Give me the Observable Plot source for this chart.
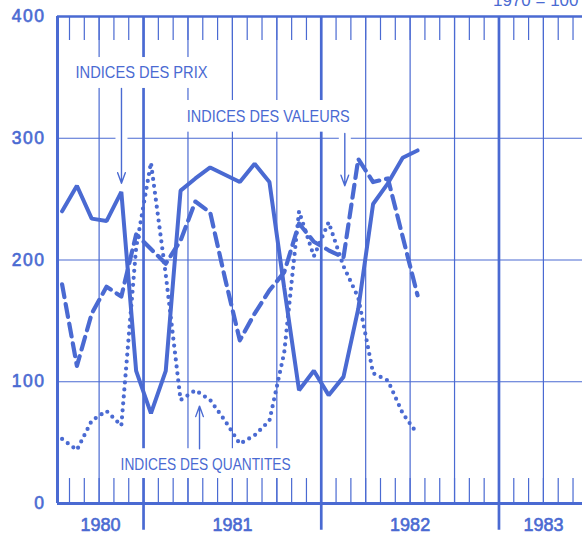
<!DOCTYPE html>
<html><head><meta charset="utf-8">
<script src="https://cdn.jsdelivr.net/npm/d3@7"></script>
<script src="https://cdn.jsdelivr.net/npm/@observablehq/plot@0.6"></script>
<style>
html,body{margin:0;padding:0;background:#fff;overflow:hidden;}
</style></head><body><div id="chart"></div>
<script>
const ink = "#4a6ad2";

// Monthly observations (mid-month), July 1980 – July 1982
const months = ["1980-07","1980-08","1980-09","1980-10","1980-11","1980-12",
  "1981-01","1981-02","1981-03","1981-04","1981-05","1981-06",
  "1981-07","1981-08","1981-09","1981-10","1981-11","1981-12",
  "1982-01","1982-02","1982-03","1982-04","1982-05","1982-06","1982-07"];
const prix      = [240, 261, 234, 232, 256, 109,  74, 109, 257, 267, 276, 270, 264, 279, 264, 177,  93, 109,  89, 104, 160, 246, 263, 284, 290];
const valeurs   = [180, 113, 156, 178, 170, 221, 209, 197, 216, 248, 239, 185, 134, 156, 175, 190, 230, 215, 208, 202, 283, 264, 267, 219, 171];
const quantites = [ 53,  44,  68,  76,  64, 210, 280, 188,  85,  93,  85,  68,  49,  56,  68, 124, 240, 203, 231, 195, 169, 107, 101,  74,  57];

// Axis content (x in months since January 1980)
const yTicks = [0, 100, 200, 300, 400];
const yearLabels = ["1980", "1981", "1982", "1983"];
const yearLabelPos = [9.1, 18, 30, 39];
const yearBounds = [12, 24, 36];
const quarterLines = [9, 15, 18, 21, 27, 30, 33, 39];
const monthTicks = [7,8,9,10,11,12,13,14,15,16,17,18,19,20,21,22,23,24,25,26,27,28,29,30,31,32,33,34,35,36,37,38,39,40,41];
const xDomain = [6.19, 41.64];

// Annotations
const labelTexts = ["INDICES DES PRIX", "INDICES DES VALEURS", "INDICES DES QUANTITES"];
const labelT = [11.865, 20.42, 16.19];
const labelV = [353.6, 317.3, 31.5];
const labelWidths = [132, 163, 170];
const boxes = [
  {t1: 6.6, t2: 16.66, v1: 340.9, v2: 366.3},
  {t1: 14.36, t2: 26.51, v1: 305, v2: 331},
  {t1: 9.64, t2: 22.6, v1: 20.5, v2: 45}
];
const arrows = [
  {t: 10.51, v1: 341, v2: 263},
  {t: 25.59, v1: 304, v2: 261},
  {t: 15.78, v1: 45, v2: 80}
];
const unitNote = "1970 = 100";

const toT = s => { const [y, m] = s.split("-").map(Number); return (y - 1980) * 12 + (m - 1) + 0.5; };
const rows = months.map((m, i) => ({t: toT(m), prix: prix[i], valeurs: valeurs[i], quantites: quantites[i]}));
const labels = labelTexts.map((text, i) => ({text, t: labelT[i], v: labelV[i]}));

const font = "'Liberation Sans', Arial, sans-serif";

const chart = Plot.plot({
  width: 582, height: 539,
  marginLeft: 57, marginRight: 0, marginTop: 16, marginBottom: 36,
  x: {type: "linear", domain: xDomain, axis: null},
  y: {domain: [0, 400], axis: null},
  style: {fontFamily: font, background: "white", color: ink, overflow: "visible"},
  marks: [
    Plot.ruleY([100, 200, 300], {stroke: ink, strokeWidth: 1.2}),
    Plot.ruleX(quarterLines, {y1: 0, y2: 400, stroke: ink, strokeWidth: 1.2}),
    Plot.ruleX(yearBounds, {y1: -22, y2: 400, stroke: ink, strokeWidth: 2.7}),
    Plot.rect(boxes, {x1: "t1", x2: "t2", y1: "v1", y2: "v2", fill: "white"}),
    Plot.ruleX(monthTicks, {y1: 380.3, y2: 400, stroke: ink, strokeWidth: 1.2}),
    Plot.ruleX(monthTicks, {y1: 0, y2: 20.5, stroke: ink, strokeWidth: 1.2}),
    Plot.ruleY([0], {stroke: ink, strokeWidth: 3}),
    Plot.ruleY([400], {stroke: ink, strokeWidth: 2.5}),
    Plot.ruleX([xDomain[0]], {y1: 0, y2: 400, stroke: ink, strokeWidth: 3}),
    Plot.ruleX(arrows, {x: "t", y1: "v1", y2: "v2", stroke: "white", strokeWidth: 12}),
    Plot.arrow(arrows, {x: "t", y1: "v1", y2: "v2", stroke: ink, strokeWidth: 1.4, headLength: 12, headAngle: 40}),
    Plot.text(labels, {x: "t", y: "v", text: "text", fill: ink, fontSize: 16.5, textAnchor: "middle"}),
    Plot.text(yTicks, {x: xDomain[0], y: d => d, text: d => String(d), fill: ink, stroke: ink, strokeWidth: 0.6, fontSize: 17.5, textAnchor: "end", dx: -12}),
    Plot.text(yearLabels, {x: (d, i) => yearLabelPos[i], y: -18, text: d => d, fill: ink, stroke: ink, strokeWidth: 0.6, fontSize: 18}),
    Plot.text([unitNote], {frameAnchor: "top-right", dx: -4, dy: -11, lineAnchor: "bottom", textAnchor: "end", fill: ink, fontSize: 17}),
    Plot.line(rows, {x: "t", y: "prix", stroke: ink, strokeWidth: 4, strokeLinejoin: "miter"}),
    Plot.line(rows, {x: "t", y: "valeurs", stroke: ink, strokeWidth: 4.2, strokeDasharray: "13,7"}),
    Plot.line(rows, {x: "t", y: "quantites", stroke: ink, strokeWidth: 4.2, strokeDasharray: "0,7", strokeLinecap: "round"})
  ]
});
document.getElementById("chart").appendChild(chart);

chart.querySelectorAll("text").forEach(el => {
  const i = labelTexts.indexOf(el.textContent);
  if (i >= 0) {
    el.setAttribute("textLength", labelWidths[i]);
    el.setAttribute("lengthAdjust", "spacingAndGlyphs");
  }
  if (yTicks.map(String).includes(el.textContent)) el.style.letterSpacing = "1.5px";
});
</script></body></html>
